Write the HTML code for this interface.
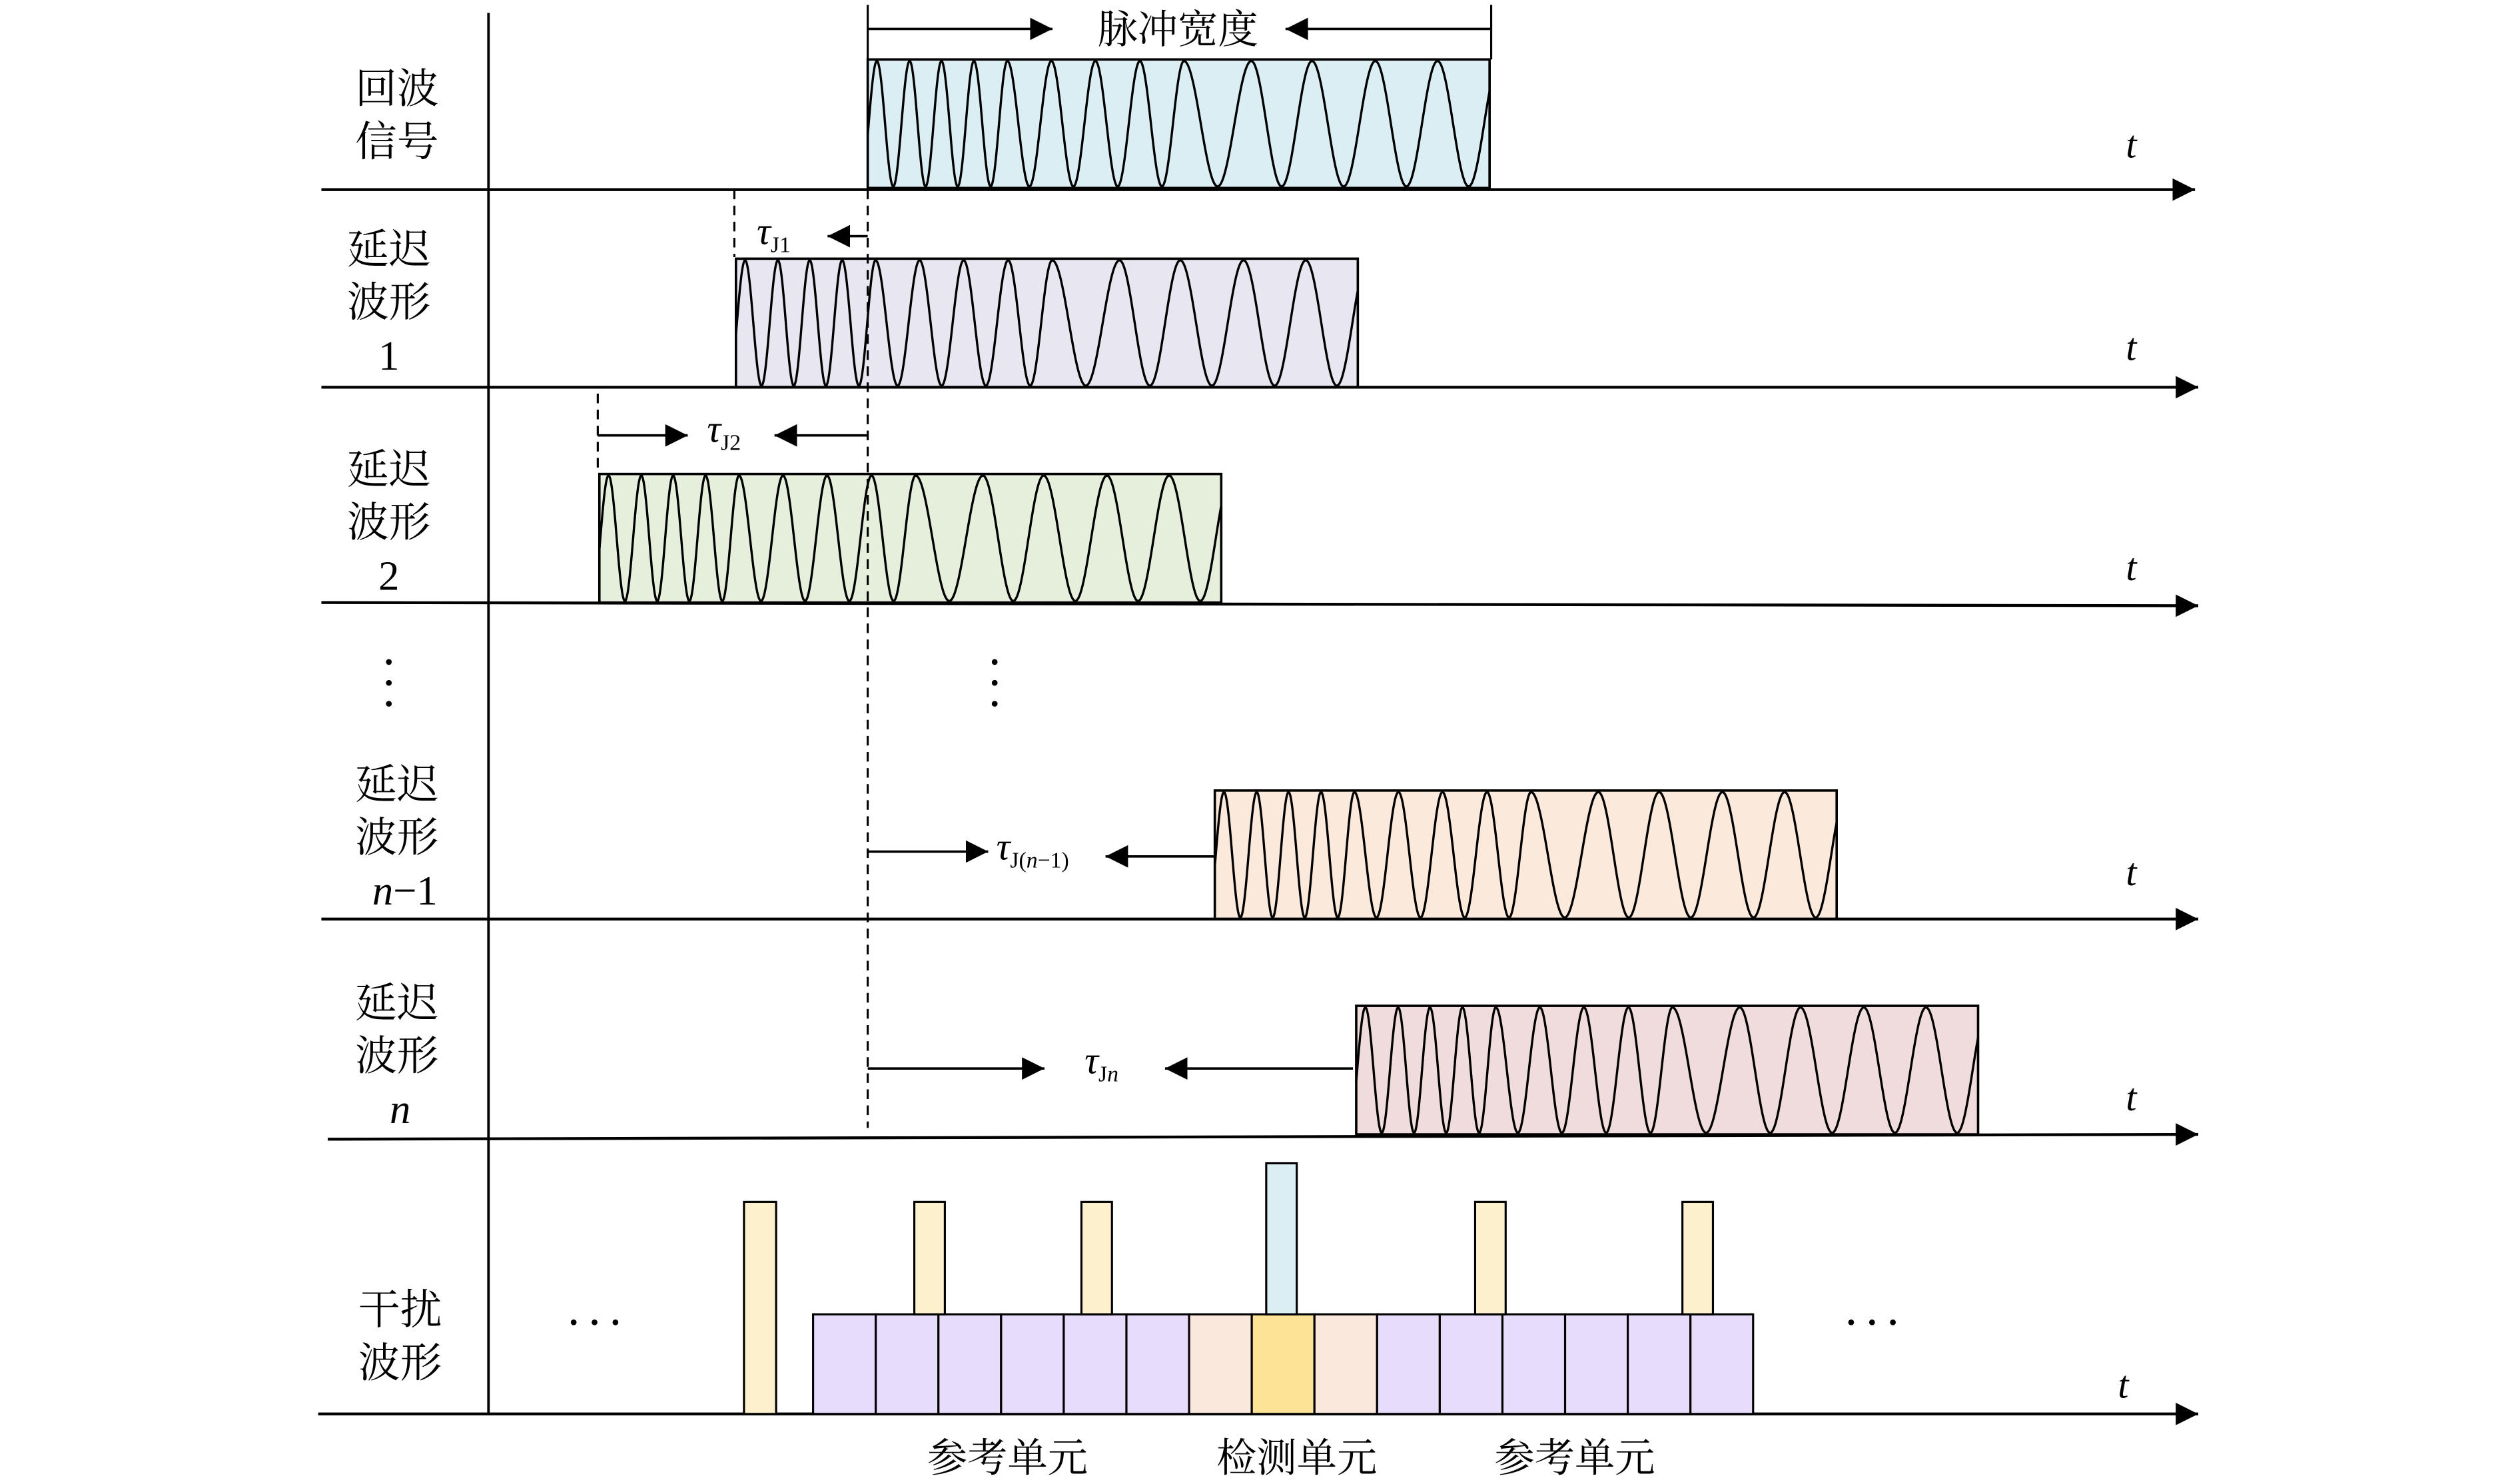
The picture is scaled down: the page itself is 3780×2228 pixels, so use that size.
<!DOCTYPE html>
<html><head><meta charset="utf-8"><style>
html,body{margin:0;padding:0;background:#fff;}
svg{display:block;}
text{font-family:"Liberation Serif","Noto Serif CJK SC",serif;fill:#000;}
</style></head><body>
<svg id="s" width="3780" height="2228" viewBox="0 0 1567 923.6" preserveAspectRatio="none" xmlns="http://www.w3.org/2000/svg">
<defs>
<marker id="ah2" viewBox="0 0 10 10" refX="10" refY="5" markerWidth="14" markerHeight="14" markerUnits="userSpaceOnUse" orient="auto"><path d="M0,0L10,5L0,10z" fill="#000"/></marker>
</defs>
<g id="waves"></g>
<line x1="304" y1="8" x2="304" y2="880" stroke="#000" stroke-width="1.6"/>
<g stroke="#000" stroke-width="1.8" marker-end="url(#ah2)">
<line x1="200" y1="118" x2="1366" y2="118"/>
<line x1="200" y1="241" x2="1368" y2="241"/>
<line x1="200" y1="375" x2="1368" y2="377"/>
<line x1="200" y1="572" x2="1368" y2="572"/>
<line x1="204" y1="709" x2="1368" y2="706"/>
<line x1="198" y1="880" x2="1368" y2="880"/>
</g>
<line x1="540" y1="118" x2="540" y2="702" stroke="#000" stroke-width="1.3" stroke-dasharray="6,4"/>
<line x1="457" y1="118" x2="457" y2="160" stroke="#000" stroke-width="1.3" stroke-dasharray="6,4"/>
<line x1="372" y1="245" x2="372" y2="292" stroke="#000" stroke-width="1.3" stroke-dasharray="6,4"/>
<line x1="540" y1="3" x2="540" y2="37" stroke="#000" stroke-width="1.3"/>
<line x1="928" y1="3" x2="928" y2="37" stroke="#000" stroke-width="1.3"/>
<g stroke="#000" stroke-width="1.5" marker-end="url(#ah2)">
<line x1="540" y1="18" x2="655" y2="18"/>
<line x1="928" y1="18" x2="800" y2="18"/>
<line x1="540" y1="147" x2="515" y2="147"/>
<line x1="372" y1="271" x2="428" y2="271"/>
<line x1="540" y1="271" x2="482" y2="271"/>
<line x1="540" y1="530" x2="615" y2="530"/>
<line x1="756" y1="533" x2="688" y2="533"/>
<line x1="540" y1="665" x2="650" y2="665"/>
<line x1="842" y1="665" x2="725" y2="665"/>
</g>
<text x="733" y="27" font-size="25" text-anchor="middle">脉冲宽度</text>
<text x="471" y="152" font-size="24" font-style="italic">τ<tspan font-size="14" font-style="normal" dy="5">J1</tspan></text>
<text x="440" y="275" font-size="24" font-style="italic">τ<tspan font-size="14" font-style="normal" dy="5">J2</tspan></text>
<text x="620" y="535" font-size="24" font-style="italic">τ<tspan font-size="14" font-style="normal" dy="5">J(<tspan font-style="italic">n</tspan>−1)</tspan></text>
<text x="675" y="668" font-size="24" font-style="italic">τ<tspan font-size="14" font-style="normal" dy="5">J<tspan font-style="italic">n</tspan></tspan></text>
<g font-size="24" font-style="italic">
<text x="1323" y="98">t</text><text x="1323" y="224">t</text><text x="1323" y="361">t</text>
<text x="1323" y="551">t</text><text x="1323" y="691">t</text><text x="1318" y="870">t</text>
</g>
<g font-size="26" text-anchor="middle">
<text x="247" y="64">回波</text><text x="247" y="97">信号</text>
<text x="242" y="164">延迟</text><text x="242" y="197">波形</text><text x="242" y="230">1</text>
<text x="242" y="301">延迟</text><text x="242" y="334">波形</text><text x="242" y="367">2</text>
<text x="247" y="497">延迟</text><text x="247" y="530">波形</text><text x="252" y="563"><tspan font-style="italic">n</tspan>−1</text>
<text x="247" y="633">延迟</text><text x="247" y="666">波形</text><text x="249" y="699" font-style="italic">n</text>
<text x="249" y="824">干扰</text><text x="249" y="857">波形</text>
</g>
<g fill="#000">
<circle cx="242" cy="412" r="1.8"/><circle cx="242" cy="425" r="1.8"/><circle cx="242" cy="438" r="1.8"/>
<circle cx="619" cy="412" r="1.8"/><circle cx="619" cy="425" r="1.8"/><circle cx="619" cy="438" r="1.8"/>
<circle cx="357" cy="823" r="1.8"/><circle cx="370" cy="823" r="1.8"/><circle cx="383" cy="823" r="1.8"/>
<circle cx="1152" cy="823" r="1.8"/><circle cx="1165" cy="823" r="1.8"/><circle cx="1178" cy="823" r="1.8"/>
</g>
<g id="cells" stroke="#000" stroke-width="1.3"></g>
<g stroke="#000" stroke-width="1.3">
<rect x="463" y="748" width="20" height="132" fill="#fdf0cc"/>
<rect x="569" y="748" width="19" height="70" fill="#fdf0cc"/>
<rect x="673" y="748" width="19" height="70" fill="#fdf0cc"/>
<rect x="918" y="748" width="19" height="70" fill="#fdf0cc"/>
<rect x="1047" y="748" width="19" height="70" fill="#fdf0cc"/>
<rect x="788" y="724" width="19" height="94" fill="#dbeef4"/>
</g>
<g font-size="25" text-anchor="middle">
<text x="627" y="916">参考单元</text><text x="807" y="916">检测单元</text><text x="980" y="916">参考单元</text>
</g>
</svg>
<script>
var NS="http://www.w3.org/2000/svg";
function el(p,n,a){var e=document.createElementNS(NS,n);for(var k in a)e.setAttribute(k,a[k]);p.appendChild(e);return e;}
var P=[5.7,26.1,45.9,66.1,86.9,114.3,141.7,169.4,196.8,238.7,276.5,315.9,354.6];
function phase(x){
 if(x<=P[0])return (x-P[0])/20.4;
 for(var k=0;k<P.length-1;k++){if(x<=P[k+1])return k+(x-P[k])/(P[k+1]-P[k]);}
 return P.length-1+(x-P[P.length-1])/38.7;
}
var W=document.getElementById("waves");
[[540,37,"#dbeef4"],[458,161,"#e8e6f0"],[373,295,"#e6efdc"],[756,492,"#fbe9dc"],[844,626,"#f0dcdc"]].forEach(function(b){
 var x0=b[0],y0=b[1],w=387,h=80;
 el(W,"rect",{x:x0,y:y0,width:w,height:h,fill:b[2],stroke:"#000","stroke-width":1.5});
 var d="";
 for(var i=0;i<=w*4;i++){var x=i/4;var p=phase(x);
  var y=y0+h/2-(h/2-1)*Math.cos(2*Math.PI*p);d+=(i?"L":"M")+(x0+x).toFixed(2)+","+y.toFixed(2);}
 el(W,"path",{d:d,fill:"none",stroke:"#000","stroke-width":1.4});
});
var C=document.getElementById("cells");
for(var i=0;i<15;i++){var x=506+39*i;var c="#e8dcfb";if(i==6||i==8)c="#fbe8dc";if(i==7)c="#fde396";
 el(C,"rect",{x:x,y:818,width:39,height:62,fill:c});}
</script>
</body></html>
